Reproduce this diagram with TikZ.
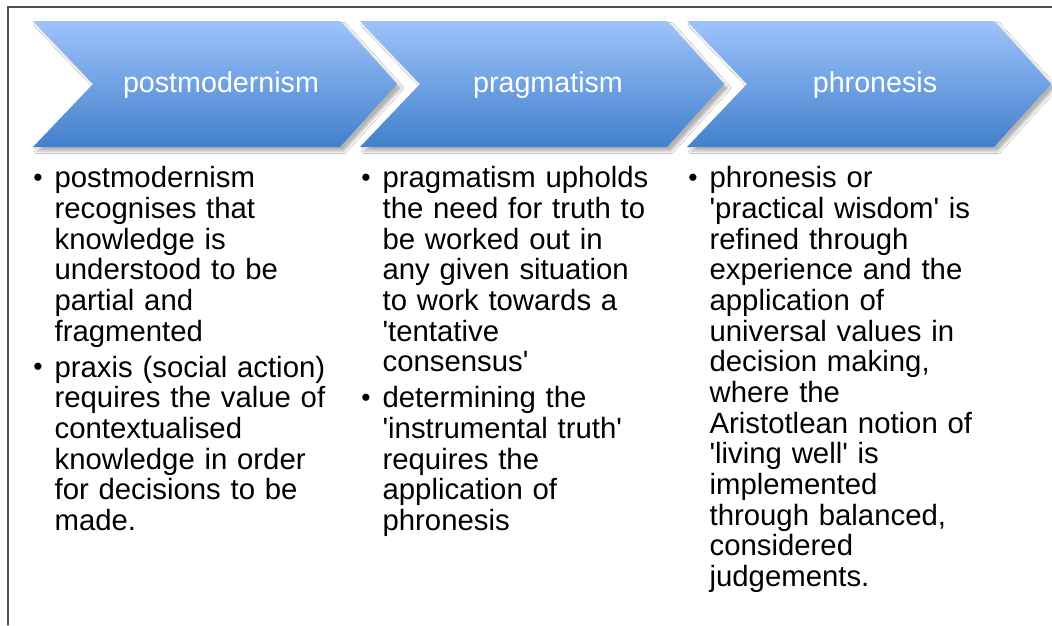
\documentclass[tikz,border=0pt]{standalone}
\usepackage{fontspec}
\setmainfont{Liberation Sans}[Ligatures=TeXOff]
\usepackage{enumitem}
\usetikzlibrary{shadows.blur}
\definecolor{chevtop}{RGB}{157,195,250}
\definecolor{chevbot}{RGB}{66,128,204}
\definecolor{framegray}{RGB}{80,80,80}
\tikzset{
  chevron/.style={top color=chevtop, bottom color=chevbot,
    blur shadow={shadow xshift=3pt, shadow yshift=-3pt,
      shadow blur radius=2pt, shadow opacity=30}},
  headtext/.style={text=white, font=\fontsize{21.5}{24}\selectfont, anchor=base},
  bodytext/.style={anchor=north west, inner sep=0pt, text width=240pt,
    align=left, font=\fontsize{22}{23}\selectfont}
}
\newcommand{\bodylist}[1]{\begin{itemize}[label=\raisebox{1pt}{\scalebox{0.9}{\textbullet}},
  leftmargin=16pt,labelindent=0pt,labelsep=*,align=left,
  itemsep=4pt,parsep=0pt,topsep=0pt,partopsep=0pt]#1\end{itemize}}

\begin{document}
\begin{tikzpicture}[x=0.75pt,y=-0.75pt,line cap=round]

  \useasboundingbox (0,0) rectangle (1052,625);
  \fill [white] (0,0) rectangle (1052,625);

  \draw [framegray, line width=1.1pt] (8,625) -- (8,7) -- (1052,7);

  % the three chevrons
  \foreach \i/\name in {0/postmodernism,1/pragmatism,2/phronesis}{
    \path [chevron] ({33+327*\i},21) -- ++(307,0) -- ++(57,63) -- ++(-57,63)
      -- ++(-307,0) -- ++(60,-63) -- cycle;
    \node [headtext] (head\i) at ({221+327*\i},92) {\name};
  }

  \node [bodytext] (col1) at (33,157) {\bodylist{
    \item postmodernism\\ recognises that\\ knowledge is\\ understood to be\\
      partial and\\ fragmented
    \item praxis (social action)\\ requires the value of\\ contextualised\\
      knowledge in order\\ for decisions to be\\ made.}};

  \node [bodytext] (col2) at (361,157) {\bodylist{
    \item pragmatism upholds\\ the need for truth to\\ be worked out in\\
      any given situation\\ to work towards a\\ 'tentative\\ consensus'
    \item determining the\\ 'instrumental truth'\\ requires the\\
      application of\\ phronesis}};

  \node [bodytext] (col3) at (688,157) {\bodylist{
    \item phronesis or\\ 'practical wisdom' is\\ refined through\\
      experience and the\\ application of\\ universal values in\\
      decision making,\\ where the\\ Aristotlean notion of\\ 'living well' is\\
      implemented\\ through balanced,\\ considered\\ judgements.}};

\end{tikzpicture}
\end{document}
